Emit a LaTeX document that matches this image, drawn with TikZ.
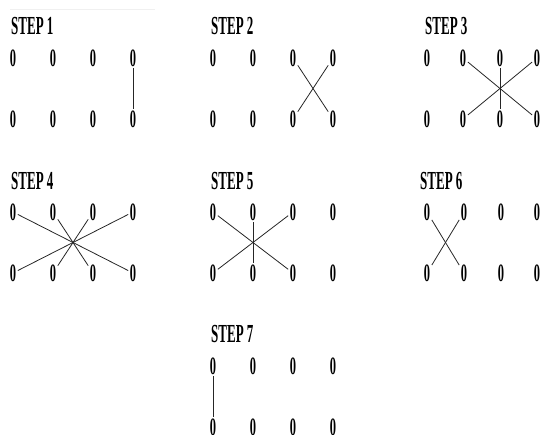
\documentclass[tikz,border=0pt]{standalone}
\usepackage{fontspec}
\newfontfamily\cond{Liberation Serif}[FakeStretch=0.5]
\begin{document}
\begin{tikzpicture}[x=1pt,y=-1pt,
 zero/.style={inner sep=1.5pt, text height=17pt, text depth=0pt, font=\cond\bfseries\fontsize{25}{25}\selectfont},
 ttl/.style={anchor=base west, inner sep=0pt, font=\cond\bfseries\fontsize{26}{26}\selectfont},
 link/.style={line width=0.8pt, black!85}]
\useasboundingbox (0,0) rectangle (544,435);
\clip (0,0) rectangle (544,435);
\coordinate (ra) at (10,9);
\coordinate (rb) at (155,9);
\draw[black!6, line width=0.8pt] (ra) -- (rb);
\foreach \g/\xa/\xb/\xc/\xd/\yt/\yb in {1/13/53/93/133/58/119, 2/213/253/293/333/58/119, 3/427/463/500/537/58/119, 4/13/53/93/133/212/273, 5/213/253/293/333/212/273, 6/427/464/501/537/212/273, 7/213/253/293/333/366/427}
{
  \foreach \i/\x in {1/\xa,2/\xb,3/\xc,4/\xd}
  {
    \node[zero] (g\g-t\i) at (\x,\yt) {0};
    \node[zero] (g\g-b\i) at (\x,\yb) {0};
  }
}
\node[ttl] (s1) at (11,35) {STEP 1};
\node[ttl] (s2) at (211,35) {STEP 2};
\node[ttl] (s3) at (425,35) {STEP 3};
\node[ttl] (s4) at (11,190) {STEP 4};
\node[ttl] (s5) at (211,190) {STEP 5};
\node[ttl] (s6) at (420,190) {STEP 6};
\node[ttl] (s7) at (211,343) {STEP 7};
% step 1
\draw[link] (g1-t4) -- (g1-b4);
% step 2
\draw[link] (g2-t3) -- (g2-b4);
\draw[link] (g2-t4) -- (g2-b3);
% step 3
\draw[link] (g3-t2) -- (g3-b4);
\draw[link] (g3-t4) -- (g3-b2);
\draw[link] (g3-t3) -- (g3-b3);
% step 4
\draw[link] (g4-t1) -- (g4-b4);
\draw[link] (g4-t2) -- (g4-b3);
\draw[link] (g4-t3) -- (g4-b2);
\draw[link] (g4-t4) -- (g4-b1);
% step 5
\draw[link] (g5-t1) -- (g5-b3);
\draw[link] (g5-t3) -- (g5-b1);
\draw[link] (g5-t2) -- (g5-b2);
% step 6
\draw[link] (g6-t1) -- (g6-b2);
\draw[link] (g6-t2) -- (g6-b1);
% step 7
\draw[link] (g7-t1) -- (g7-b1);
\end{tikzpicture}
\end{document}
